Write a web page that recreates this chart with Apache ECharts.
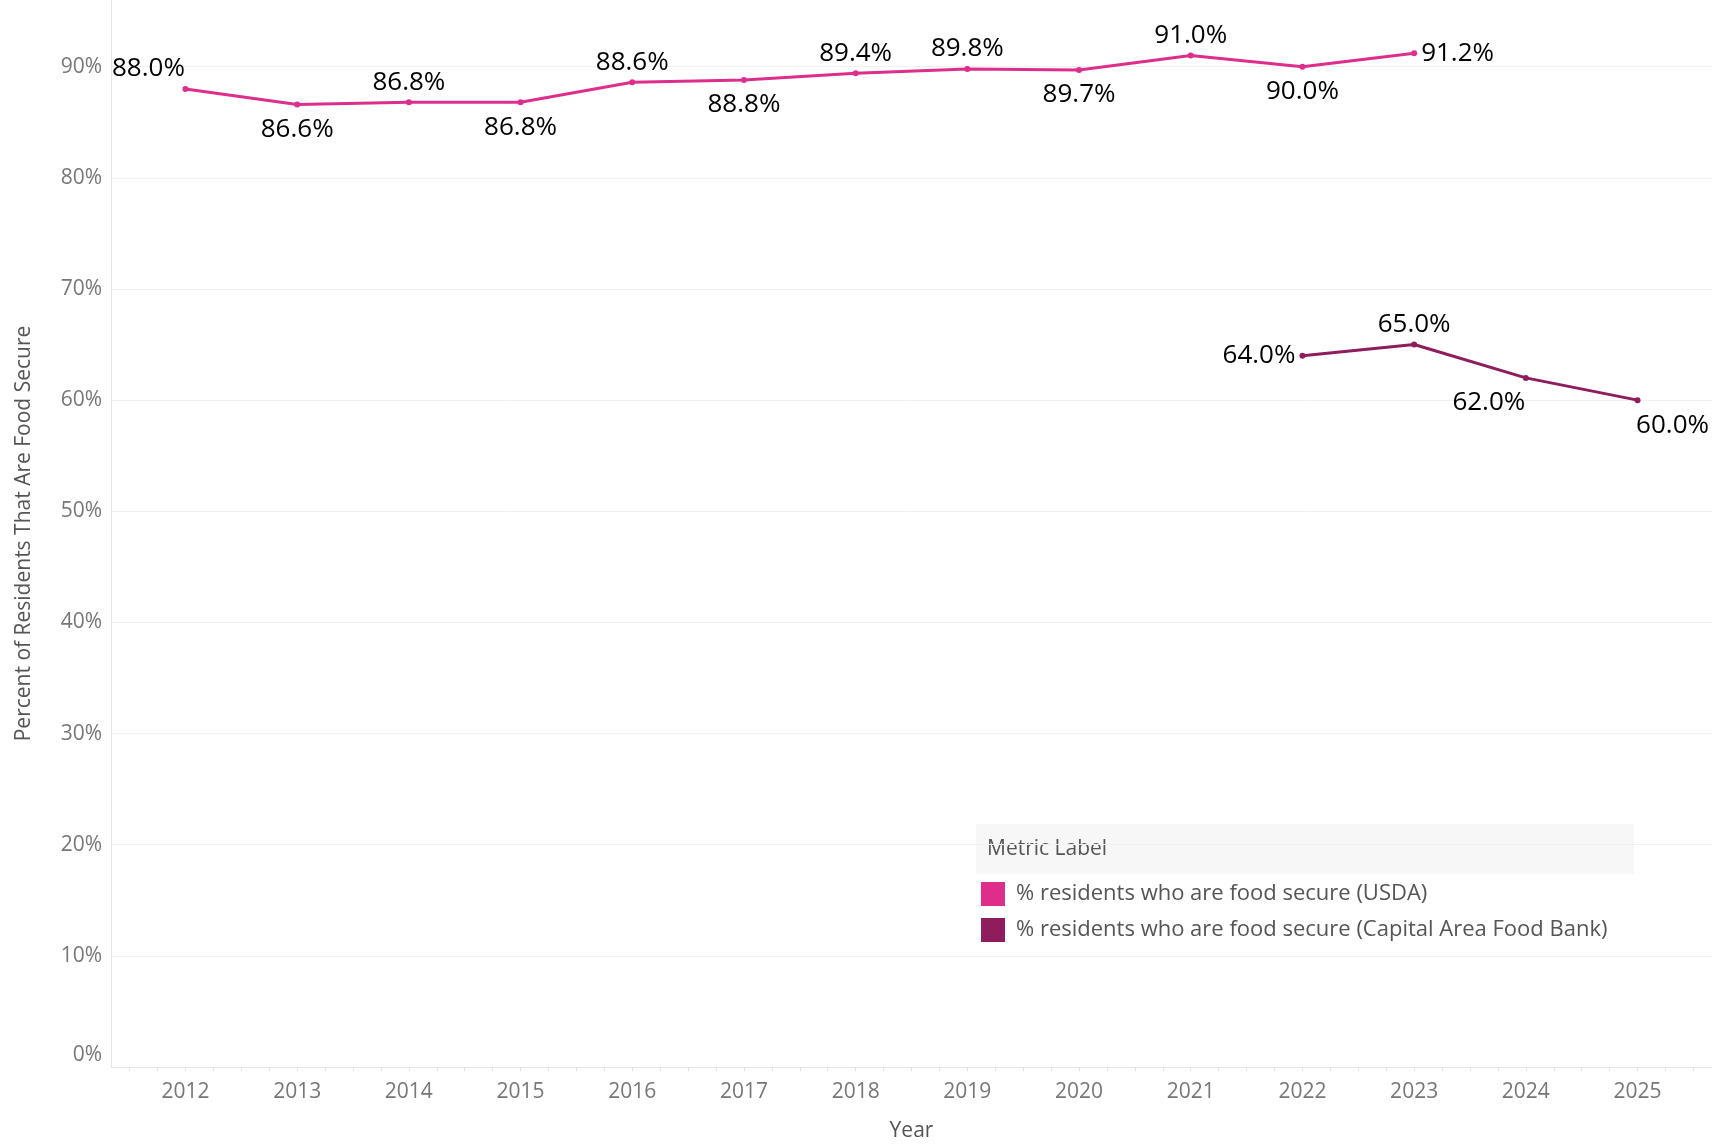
<!DOCTYPE html>
<html>
<head>
<meta charset="utf-8">
<script src="https://cdn.jsdelivr.net/npm/echarts@6/dist/echarts.min.js"></script>
<style>
  html, body { margin: 0; padding: 0; background: #fff; }
  #main { width: 1712px; height: 1147px; }
</style>
</head>
<body>
<div id="main"></div>
<script>
  // years on the x axis
  const years = [2012, 2013, 2014, 2015, 2016, 2017, 2018, 2019, 2020, 2021, 2022, 2023, 2024, 2025];
  // USDA series
  const usdaYears = [2012, 2013, 2014, 2015, 2016, 2017, 2018, 2019, 2020, 2021, 2022, 2023];
  const usdaValues = [88.0, 86.6, 86.8, 86.8, 88.6, 88.8, 89.4, 89.8, 89.7, 91.0, 90.0, 91.2];
  // Capital Area Food Bank series
  const cafbYears = [2022, 2023, 2024, 2025];
  const cafbValues = [64.0, 65.0, 62.0, 60.0];
  const yTicks = [0, 10, 20, 30, 40, 50, 60, 70, 80, 90];

  const usdaName = '% residents who are food secure (USDA)';
  const cafbName = '% residents who are food secure (Capital Area Food Bank)';

  // label placement for each point
  const usdaPlace = [['top', -37], ['bottom', 0], ['top', 0], ['bottom', 0], ['top', 0], ['bottom', 0],
                     ['top', 0], ['top', 0], ['bottom', 0], ['top', 0], ['bottom', 0], ['right', 0]];
  const cafbPlace = [['left', 0], ['top', 0], ['bottom', -37], ['bottom', 35]];

  // quarter ticks along the year axis
  let quarterTicks = [];
  for (let t = 2011.5; t <= 2025.5; t += 0.25) quarterTicks.push(t);

  function buildData(xs, ys, place) {
    return xs.map(function (x, i) {
      let pos = place[i][0];
      return {
        value: [x, ys[i]],
        label: {
          position: pos,
          offset: [place[i][1], 0],
          distance: pos === 'bottom' ? 9 : (pos === 'top' ? 4 : 4)
        }
      };
    });
  }

  const labelStyle = {
    show: true,
    fontFamily: 'Open Sans',
    fontSize: 26,
    color: '#000',
    formatter: function (p) { return p.value[1].toFixed(1) + '%'; }
  };

  let myChart = echarts.init(document.getElementById('main'));
  myChart.setOption({
    animation: false,
    textStyle: { fontFamily: 'Open Sans' },
    grid: { left: 111, right: 0, top: 0, bottom: 77 },
    legend: {
      orient: 'vertical',
      left: 981,
      top: 882,
      padding: 0,
      itemWidth: 24,
      itemHeight: 24,
      itemGap: 12,
      icon: 'rect',
      textStyle: { fontSize: 22, color: '#555', fontFamily: 'Open Sans', padding: [5, 0, 0, 6] },
      data: [usdaName, cafbName]
    },
    graphic: [
      {
        type: 'rect',
        shape: { x: 976, y: 824, width: 658, height: 50 },
        style: { fill: '#f7f7f7' },
        silent: true
      },
      {
        type: 'text',
        x: 987, y: 849,
        style: { text: 'Metric Label', fill: '#555', fontSize: 21, fontFamily: 'Open Sans', verticalAlign: 'middle' }
      }
    ],
    xAxis: {
      type: 'value',
      min: 2011 + 1 / 3,
      max: 2025 + 2 / 3,
      name: 'Year',
      nameLocation: 'middle',
      nameGap: 54,
      nameTextStyle: { fontSize: 21, color: '#555' },
      axisLine: { show: true, lineStyle: { color: '#e6e6e6' } },
      axisTick: { show: true, customValues: quarterTicks, length: 4, lineStyle: { color: '#e0e0e0' } },
      axisLabel: {
        customValues: years,
        formatter: function (v) { return String(Math.round(v)); },
        fontSize: 21, color: '#777', margin: 15
      },
      splitLine: { show: false }
    },
    yAxis: {
      type: 'value',
      min: 0,
      max: 96,
      interval: 10,
      name: 'Percent of Residents That Are Food Secure',
      nameLocation: 'middle',
      nameGap: 76,
      nameTextStyle: { fontSize: 21, color: '#555' },
      axisLine: { show: true, lineStyle: { color: '#e6e6e6' } },
      axisTick: { show: false },
      axisLabel: {
        customValues: yTicks,
        formatter: function (v) { return v === 0 ? '{z|0%}' : v + '%'; },
        rich: { z: { fontSize: 21, color: '#777', padding: [0, 0, 24, 0] } },
        fontSize: 21, color: '#777', margin: 9
      },
      splitLine: { show: true, showMaxLine: false, lineStyle: { color: '#f0f0f0' } }
    },
    series: [
      {
        name: usdaName,
        type: 'line',
        data: buildData(usdaYears, usdaValues, usdaPlace),
        symbol: 'circle',
        symbolSize: 6,
        color: '#dd2e8c',
        lineStyle: { width: 3 },
        label: labelStyle
      },
      {
        name: cafbName,
        type: 'line',
        data: buildData(cafbYears, cafbValues, cafbPlace),
        symbol: 'circle',
        symbolSize: 6,
        color: '#8f1d5e',
        lineStyle: { width: 3 },
        label: labelStyle
      }
    ]
  });
</script>
</body>
</html>
